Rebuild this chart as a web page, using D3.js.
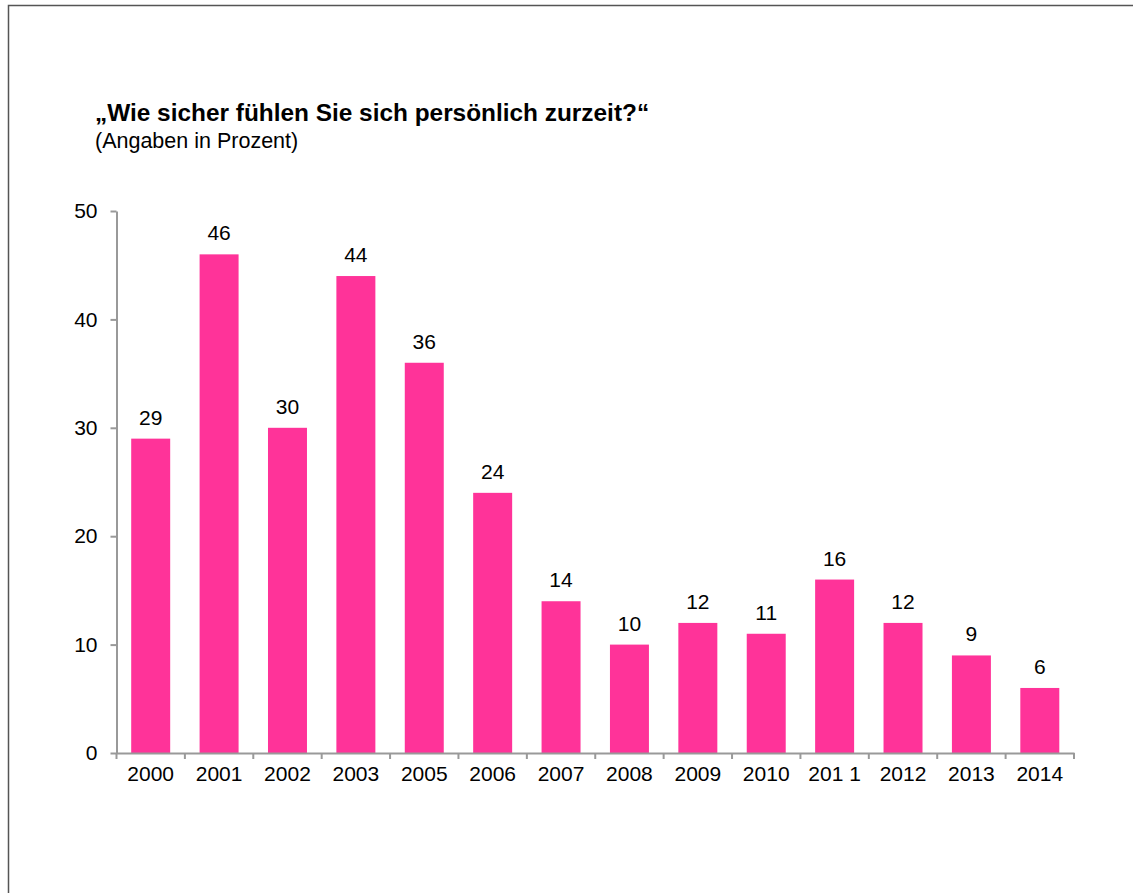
<!DOCTYPE html>
<html>
<head>
<meta charset="utf-8">
<script src="https://cdn.jsdelivr.net/npm/d3@7"></script>
<style>
  html, body { margin: 0; padding: 0; background: #fff; }
  svg text { font-family: "Liberation Sans", Arial, sans-serif; fill: #000; }
</style>
</head>
<body>
<svg id="chart" width="1134" height="893"></svg>
<script>
// Survey years and share of respondents (percent)
const years = ["2000", "2001", "2002", "2003", "2005", "2006", "2007", "2008",
               "2009", "2010", "201 1", "2012", "2013", "2014"];
const values = [29, 46, 30, 44, 36, 24, 14, 10, 12, 11, 16, 12, 9, 6];
const yTicks = [0, 10, 20, 30, 40, 50];

const title = "„Wie sicher fühlen Sie sich persönlich zurzeit?“";
const subtitle = "(Angaben in Prozent)";

const svg = d3.select("#chart");

// outer frame (left and top edges)
svg.append("path")
  .attr("d", "M8.5,893 V5.5 H1133")
  .attr("fill", "none")
  .attr("stroke", "#555")
  .attr("stroke-width", 1.5);

svg.append("text")
  .attr("x", 95).attr("y", 121)
  .attr("font-size", 24.4).attr("font-weight", "bold")
  .text(title);
svg.append("text")
  .attr("x", 95).attr("y", 148)
  .attr("font-size", 21.5)
  .text(subtitle);

const plotLeft = 116.5, plotRight = 1074, plotTop = 211, plotBottom = 753;
const labelSize = 21;

const x = d3.scaleBand()
  .domain(years)
  .range([plotLeft, plotRight])
  .paddingInner(0.43)
  .paddingOuter(0.215);

const y = d3.scaleLinear()
  .domain([0, 50])
  .range([plotBottom, plotTop]);

const axisColor = "#999";

// bars
svg.append("g").selectAll("rect")
  .data(values)
  .join("rect")
  .attr("x", (d, i) => x(years[i]))
  .attr("width", x.bandwidth())
  .attr("y", d => y(d))
  .attr("height", d => y(0) - y(d))
  .attr("fill", "#FF3399");

// value labels
svg.append("g").selectAll("text")
  .data(values)
  .join("text")
  .attr("x", (d, i) => x(years[i]) + x.bandwidth() / 2)
  .attr("y", d => y(d) - 14)
  .attr("text-anchor", "middle")
  .attr("font-size", labelSize)
  .text(d => d);

// y axis
const yAxis = svg.append("g")
  .attr("transform", `translate(${plotLeft},0)`)
  .call(d3.axisLeft(y).tickValues(yTicks).tickSize(6).tickPadding(13).tickSizeOuter(0));
yAxis.select(".domain").attr("stroke", axisColor).attr("stroke-width", 2);
yAxis.selectAll(".tick line").attr("stroke", axisColor).attr("stroke-width", 2);
yAxis.selectAll(".tick text")
  .attr("font-size", labelSize)
  .attr("font-family", "Liberation Sans, Arial, sans-serif")
  .attr("fill", "#000");

// x axis: labels centred under bars, tick marks on category boundaries
const xAxis = svg.append("g")
  .attr("transform", `translate(0,${plotBottom})`)
  .call(d3.axisBottom(x).tickSize(0).tickPadding(13).tickSizeOuter(0));
xAxis.select(".domain").attr("stroke", axisColor).attr("stroke-width", 2);
xAxis.selectAll(".tick text")
  .attr("font-size", labelSize)
  .attr("font-family", "Liberation Sans, Arial, sans-serif")
  .attr("fill", "#000")
  .attr("dy", "0.72em");

const step = x.step();
const boundaries = d3.range(years.length + 1).map(i => x.range()[0] + i * step);
xAxis.selectAll("line.boundary")
  .data(boundaries)
  .join("line")
  .attr("class", "boundary")
  .attr("x1", d => d).attr("x2", d => d)
  .attr("y1", 0).attr("y2", 6)
  .attr("stroke", axisColor)
  .attr("stroke-width", 2);
</script>
</body>
</html>
